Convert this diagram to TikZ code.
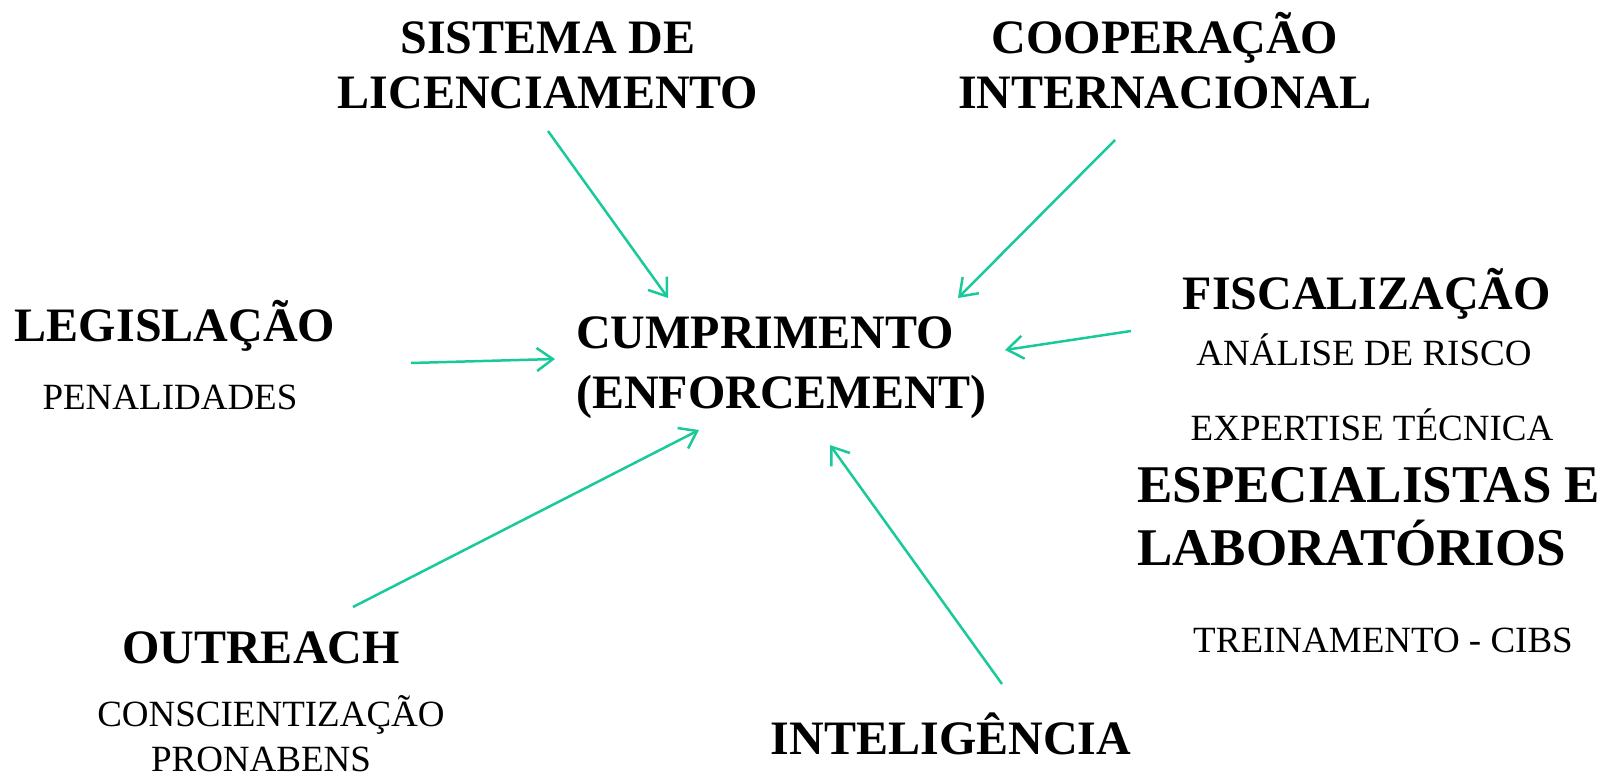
\documentclass[tikz,border=0pt]{standalone}
\usepackage{fontspec}
\setmainfont{Liberation Serif}
\usetikzlibrary{arrows.meta}
\definecolor{arr}{HTML}{19C999}
\tikzset{
  big/.style={font=\bfseries\fontsize{48}{56}\selectfont, inner sep=0pt},
  huge/.style={font=\bfseries\fontsize{53}{62}\selectfont, inner sep=0pt},
  small/.style={font=\fontsize{37}{44}\selectfont, inner sep=0pt},
  link/.style={draw=arr, line width=2.5pt, -{Straight Barb[length=16pt,width=23pt]}}
}
\begin{document}
\begin{tikzpicture}[x=1pt,y=-1pt]
\useasboundingbox (0,0) rectangle (1612,776);
% texts
\node[big, anchor=base] (sis1) at (548,54) {SISTEMA DE};
\node[big, anchor=base] (sis2) at (548,108.5) {LICENCIAMENTO};
\node[big, anchor=base] (coo1) at (1165,54) {COOPERAÇÃO};
\node[big, anchor=base] (coo2) at (1165,108.5) {INTERNACIONAL};
\node[big, anchor=base] (leg) at (175,341) {LEGISLAÇÃO};
\node[small, anchor=base] (pen) at (170,409) {PENALIDADES};
\node[big, anchor=base west] (cum1) at (576,348) {CUMPRIMENTO};
\node[big, anchor=base west] (cum2) at (576,408) {(ENFORCEMENT)};
\node[big, anchor=base] (fis) at (1367,309) {FISCALIZAÇÃO};
\node[small, anchor=base] (ana) at (1364,365) {ANÁLISE DE RISCO};
\node[small, anchor=base] (exp) at (1372,440) {EXPERTISE TÉCNICA};
\node[huge, anchor=base west] (esp1) at (1137,502) {ESPECIALISTAS E};
\node[huge, anchor=base west] (esp2) at (1137,565) {LABORATÓRIOS};
\node[small, anchor=base] (tre) at (1383,652) {TREINAMENTO - CIBS};
\node[big, anchor=base] (out) at (261,663) {OUTREACH};
\node[small, anchor=base] (con) at (271,726) {CONSCIENTIZAÇÃO};
\node[small, anchor=base] (pro) at (261,771) {PRONABENS};
\node[big, anchor=base] (int) at (951,754) {INTELIGÊNCIA};
% arrow ends
\coordinate (s0) at (548,131);  \coordinate (s1) at (668,298);
\coordinate (c0) at (1115,140); \coordinate (c1) at (958,298);
\coordinate (l0) at (411,363);  \coordinate (l1) at (555,359);
\coordinate (f0) at (1131,331); \coordinate (f1) at (1005,350);
\coordinate (o0) at (353,607);  \coordinate (o1) at (699,430);
\coordinate (i0) at (1002,684); \coordinate (i1) at (830,445);
\draw[link] (s0) -- (s1);
\draw[link] (c0) -- (c1);
\draw[link] (l0) -- (l1);
\draw[link] (f0) -- (f1);
\draw[link] (o0) -- (o1);
\draw[link] (i0) -- (i1);
\end{tikzpicture}
\end{document}
